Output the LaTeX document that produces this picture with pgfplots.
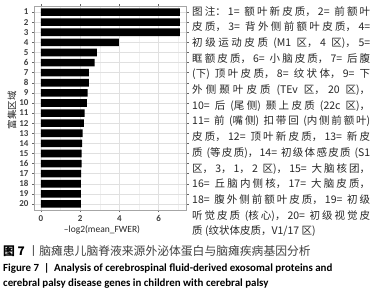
\documentclass[border=0pt]{standalone}
\usepackage{fontspec}
\setmainfont{Carlito}
\newfontfamily\cjk{Noto Sans CJK SC}
\usepackage{pgfplots}
\pgfplotsset{compat=1.18}
\XeTeXlinebreaklocale "zh"
\XeTeXlinebreakskip=0pt plus 1pt
\begin{document}
\begin{tikzpicture}[x=1pt,y=1pt]
\useasboundingbox (0,0) rectangle (377,293);
\begin{axis}[at={(34pt,83pt)}, anchor=south west, scale only axis,
  width=152.7pt, height=204pt,
  xbar, bar width=7.6pt,
  xmin=-0.354, xmax=7.424, ymin=0.4, ymax=20.6, y dir=reverse,
  xtick={0,2,4,6}, minor xtick={1,3,5,7}, ytick={1,...,20},
  xmajorgrids, xminorgrids, ymajorgrids,
  major grid style={black!12, line width=0.5pt},
  minor grid style={black!6, line width=0.3pt},
  axis line style={black!35, line width=0.5pt},
  tick style={black!60, line width=0.5pt}, tick align=outside,
  major tick length=2pt, minor tick length=0pt,
  ticklabel style={font=\fontsize{9}{10}\selectfont\bfseries, text=black!75},
  /pgf/number format/assume math mode=true,
]
\addplot[fill=black, draw=none] coordinates {
(7.07,1) (7.07,2) (7.07,3) (3.97,4) (2.85,5) (2.73,6) (2.44,7) (2.44,8)
(2.38,9) (2.34,10) (2.22,11) (2.19,12) (2.12,13) (2.10,14) (2.07,15)
(2.07,16) (2.05,17) (2.04,18) (2.04,19) (2.04,20)};
\end{axis}
\node[rotate=90, inner sep=0pt, font=\cjk\fontsize{9.5}{11}\selectfont, text=black!85] at (12,183) {富集区域};
\node[inner sep=0pt, font=\fontsize{9.5}{11}\selectfont, text=black!85] at (102,63) {–log2(mean\_FWER)};
\node[anchor=north west, inner sep=0pt, text width=178pt, align=justify, font=\cjk\fontsize{10.5}{15.7}\selectfont, text=black!85] at (192,287) {%
图注：1= 额叶新皮质，2= 前额叶\linebreak
皮质，3= 背外侧前额叶皮质，4=\linebreak
初级运动皮质 (M1 区，4 区)，5=\linebreak
眶额皮质，6= 小脑皮质，7= 后腹\linebreak
(下) 顶叶皮质，8= 纹状体，9= 下\linebreak
外侧颞叶皮质 (TEv 区，20 区)，\linebreak
10= 后 (尾侧) 颞上皮质 (22c 区)，\linebreak
11= 前 (嘴侧) 扣带回 (内侧前额叶)\linebreak
皮质，12= 顶叶新皮质，13= 新皮\linebreak
质 (等皮质)，14= 初级体感皮质 (S1\linebreak
区，3，1，2 区)，15= 大脑核团，\linebreak
16= 丘脑内侧核，17= 大脑皮质，\linebreak
18= 腹外侧前额叶皮质，19= 初级\linebreak
听觉皮质 (核心)，20= 初级视觉皮\linebreak
质 (纹状体皮质，V1/17 区)};
\node[anchor=base west, inner sep=0pt, font=\cjk\fontsize{11.8}{13}\selectfont] at (3,38) {\textbf{图 7} \textcolor{black!75}{丨脑瘫患儿脑脊液来源外泌体蛋白与脑瘫疾病基因分析}};
\node[anchor=base west, inner sep=0pt, font=\fontsize{10.9}{12}\selectfont\bfseries] at (3,22) {Figure 7 \ |\ \ Analysis of cerebrospinal fluid-derived exosomal proteins and};
\node[anchor=base west, inner sep=0pt, font=\fontsize{10.9}{12}\selectfont\bfseries] at (3,7) {cerebral palsy disease genes in children with cerebral palsy};
\end{tikzpicture}
\end{document}
